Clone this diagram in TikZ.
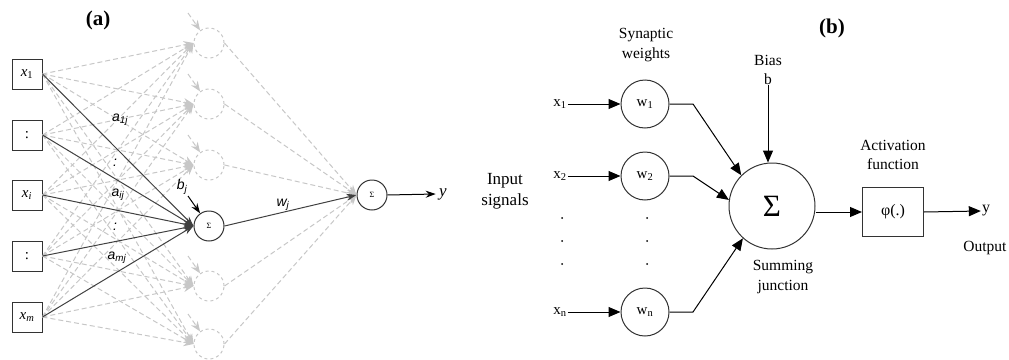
\documentclass[tikz,border=0pt]{standalone}
\usepackage{fontspec}
\setmainfont{Liberation Serif}
\newfontfamily\sansf{Liberation Sans}
\usetikzlibrary{arrows.meta}
\newcommand{\sigsym}{{\fontsize{8}{8}\selectfont Σ}}
\begin{document}
\begin{tikzpicture}[x=1pt,y=-1pt,
  inbox/.style={draw=black!80, line width=1pt, minimum size=30pt, inner sep=0pt, font=\fontsize{15}{17}\selectfont},
  hid/.style={circle, draw=black!22, dashed, line width=1pt, minimum size=30pt, inner sep=0pt},
  act/.style={circle, draw=black!80, line width=1pt, minimum size=30pt, inner sep=0pt},
  gline/.style={draw=black!22, line width=1pt, dash pattern=on 5pt off 3pt, -{Stealth[length=10pt,width=8pt]}},
  aline/.style={draw=black!75, line width=1pt, -{Stealth[length=10pt,width=7pt]}},
  bline/.style={draw=black, line width=1pt, -{Triangle[length=12pt,width=10pt]}},
  lbl/.style={font=\fontsize{15.5}{19.5}\selectfont, align=center, inner sep=0pt},
  albl/.style={font=\fontsize{14}{16}\selectfont\sansf\itshape, inner sep=0pt},
  wc/.style={circle, draw=black!80, line width=1pt, minimum size=48pt, inner sep=0pt, font=\fontsize{15}{17}\selectfont},
  plain/.style={font=\fontsize{15}{17}\selectfont, inner sep=1pt},
]
\useasboundingbox (0,0) rectangle (1009,359);

% ---------------- (a) ----------------
\node[font=\fontsize{21}{23}\selectfont\bfseries] (ta) at (98,20) {(a)};

\node[inbox] (x1) at (27,74) {\textit{x}\textsubscript{1}};
\node[inbox] (x2) at (27,135) {:};
\node[inbox] (x3) at (27,195) {\textit{x}\textsubscript{\textit{i}}};
\node[inbox] (x4) at (27,256) {:};
\node[inbox] (x5) at (27,317) {\textit{x}\textsubscript{\textit{m}}};

\foreach \i/\y in {1/43,2/104,3/165,5/286,6/344}
  \node[hid] (h\i) at (209,\y) {};
\node[act] (h4) at (209,226) {\sigsym};
\node[act] (out) at (372,195) {\sigsym};

\foreach \a in {x1,x2,x3,x4,x5}
  \foreach \b in {h1,h2,h3,h5,h6}
    \draw[gline] (\a.east) -- (\b.west);
\foreach \b in {h1,h2,h3,h5,h6}
  \draw[gline] (\b.east) -- (out.west);
\foreach \b in {h1,h2,h3,h5,h6}
  \draw[gline] ([shift={(-21,-30)}]\b.center) -- (\b.125);

\foreach \a in {x1,x2,x3,x4,x5}
  \draw[aline] (\a.east) -- (h4.west);
\draw[aline, draw=black] ([shift={(-21,-30)}]h4.center) -- (h4.125);
\draw[aline] (h4.east) -- (out.west);

\node[font=\fontsize{17}{19}\selectfont\itshape] (ya) at (443,194) {y};
\draw[aline, draw=black] (out.east) -- (ya.west);

\node[albl] (l1) at (120,120) {a\textsubscript{1\textit{j}}};
\node[albl] (d1) at (115,163) {:};
\node[albl] (l2) at (118,195) {a\textsubscript{\textit{ij}}};
\node[albl] (d2) at (115,227) {:};
\node[albl] (l3) at (117,258) {a\textsubscript{\textit{mj}}};
\node[albl] (lb) at (182,187) {b\textsubscript{\textit{j}}};
\node[albl] (lw) at (283,205) {w\textsubscript{\textit{j}}};

% ---------------- (b) ----------------
\node[font=\fontsize{21}{23}\selectfont\bfseries] (tb) at (832,28) {(b)};

\node[lbl] (syn) at (646,45) {Synaptic\\weights};
\node[lbl, font=\fontsize{17}{21}\selectfont] (inp) at (505,191) {Input\\signals};

\node[plain] (p1) at (560,104) {x\textsubscript{1}};
\node[plain] (p2) at (560,176) {x\textsubscript{2}};
\node[plain] (pn) at (560,312) {x\textsubscript{n}};

\node[wc] (w1) at (645,104) {w\textsubscript{1}};
\node[wc] (w2) at (645,176) {w\textsubscript{2}};
\node[wc] (wn) at (645,312) {w\textsubscript{n}};

\foreach \y in {218,241,264} {
  \fill (562,\y) circle (1pt);
  \fill (647,\y) circle (1pt);
}

\draw[bline] (p1.east) -- (w1.west);
\draw[bline] (p2.east) -- (w2.west);
\draw[bline] (pn.east) -- (wn.west);

\node[circle, draw=black!80, line width=1pt, minimum size=86pt, inner sep=0pt,
      font=\fontsize{31}{31}\selectfont] (sum) at (772,206) {Σ};

\coordinate (k1) at (693,104);
\coordinate (k2) at (693,176);
\coordinate (kn) at (693,312);
\draw[bline] (w1.east) -- (k1) -- (sum.135);
\draw[bline] (w2.east) -- (k2) -- (sum.172);
\draw[bline] (wn.east) -- (kn) -- (sum.228);

\node[lbl] (bias) at (768,70) {Bias\\b};
\draw[bline] (bias.south) -- (bias.south |- sum.north);

\node[draw=black!80, line width=1pt, minimum width=61pt, minimum height=49pt,
      font=\fontsize{16}{18}\selectfont] (phi) at (893,212) {φ(.)};
\draw[bline] (sum.east |- phi.west) -- (phi.west);

\node[lbl] (act) at (893,155) {Activation\\function};

\node[font=\fontsize{16}{18}\selectfont, inner sep=1pt] (yo) at (986,211) {y};
\draw[bline] (phi.east) -- (yo.west);
\node[lbl] (outl) at (985,248) {Output};

\node[lbl] (sj) at (783,277) {Summing\\junction};
\end{tikzpicture}
\end{document}
